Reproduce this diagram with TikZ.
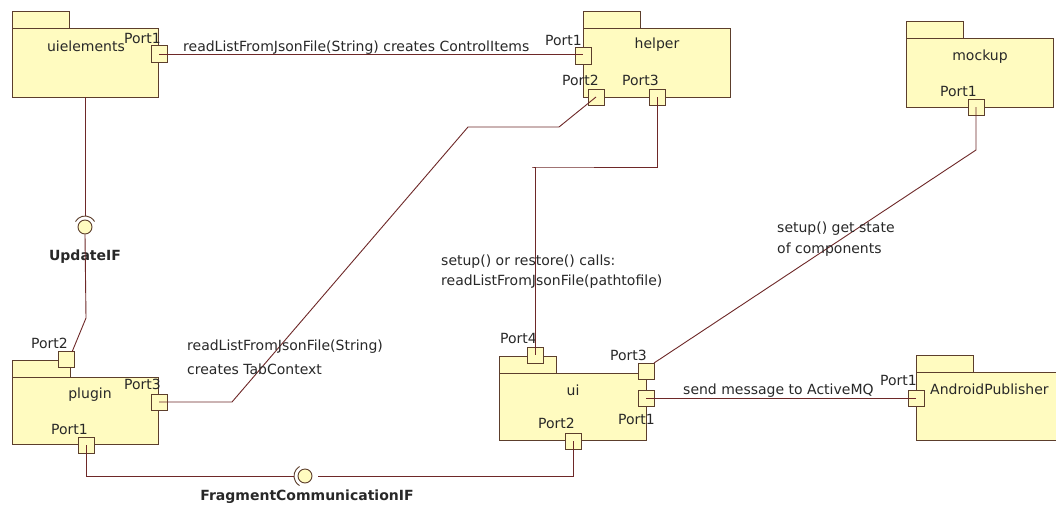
\documentclass[tikz,border=0pt]{standalone}
\usepackage{fontspec}
\setmainfont{DejaVu Sans}
\definecolor{pkgfill}{RGB}{255,251,192}
\definecolor{pkgline}{RGB}{92,62,44}
\definecolor{wirecol}{RGB}{110,40,40}
\definecolor{txtcol}{RGB}{40,40,40}
\tikzset{
  pkgbody/.style={draw=pkgline, fill=pkgfill, line width=1pt, inner sep=0, outer sep=0, anchor=north west},
  port/.style={draw=pkgline, fill=pkgfill, line width=1pt, minimum size=16pt, inner sep=0, outer sep=0},
  ball/.style={circle, draw=pkgline, fill=pkgfill, line width=0.9pt, minimum size=14pt, inner sep=0},
  socket/.style={draw=pkgline, line width=0.9pt},
  wire/.style={draw=wirecol, line width=0.9pt},
  lbl/.style={text=txtcol, inner sep=0, font=\fontsize{14}{16}\selectfont},
  ifl/.style={text=txtcol, inner sep=0, font=\fontsize{14}{16}\selectfont\bfseries},
}
\begin{document}
\begin{tikzpicture}[x=1pt,y=-1pt]
\useasboundingbox[fill=white] (0,0) rectangle (1056,511);

% ---------- packages: tab first, then body ----------
\node[pkgbody, minimum width=57pt, minimum height=17pt] (uielementsTab) at (12,12) {};
\node[pkgbody, minimum width=146pt, minimum height=68pt] (uielements) at (12,29) {};
\node[pkgbody, minimum width=57pt, minimum height=17pt] (helperTab) at (583,12) {};
\node[pkgbody, minimum width=147pt, minimum height=68pt] (helper) at (583,29) {};
\node[pkgbody, minimum width=57pt, minimum height=17pt] (mockupTab) at (906,22) {};
\node[pkgbody, minimum width=147pt, minimum height=68pt] (mockup) at (906,39) {};
\node[pkgbody, minimum width=58pt, minimum height=17pt] (pluginTab) at (12,360) {};
\node[pkgbody, minimum width=146pt, minimum height=67pt] (plugin) at (12,377) {};
\node[pkgbody, minimum width=57pt, minimum height=17pt] (uiTab) at (499,356) {};
\node[pkgbody, minimum width=147pt, minimum height=67pt] (ui) at (499,373) {};
\node[pkgbody, minimum width=57pt, minimum height=17pt] (apTab) at (916,355) {};
\node[pkgbody, minimum width=150pt, minimum height=68pt] (ap) at (916,372) {};

% package names
\node[lbl] (uielementsName) at (86,46) {uielements};
\node[lbl] (helperName) at (657,45) {helper};
\node[lbl] (mockupName) at (980,57) {mockup};
\node[lbl] (pluginName) at (90,395) {plugin};
\node[lbl] (uiName) at (573,390) {ui};
\node[lbl, anchor=west] (apName) at (930,389) {AndroidPublisher};

% ---------- ports ----------
\node[port] (uieP1) at (159,54) {};
\node[port] (helperP1) at (583,56) {};
\node[port] (helperP2) at (596,97) {};
\node[port] (helperP3) at (657,97) {};
\node[port] (mockupP1) at (976,107) {};
\node[port] (pluginP2) at (66,359) {};
\node[port] (pluginP3) at (159,402) {};
\node[port] (pluginP1) at (86,445) {};
\node[port] (uiP4) at (535,355) {};
\node[port] (uiP3) at (646,371) {};
\node[port] (uiP1) at (646,398) {};
\node[port] (uiP2) at (573,441) {};
\node[port] (apP1) at (916,398) {};

% port labels
\node[lbl, anchor=east] (uieP1l) at (161,38) {Port1};
\node[lbl, anchor=east] (helperP1l) at (582,40) {Port1};
\node[lbl, anchor=west] (helperP2l) at (562,80) {Port2};
\node[lbl, anchor=west] (helperP3l) at (622,80) {Port3};
\node[lbl, anchor=west] (mockupP1l) at (940,91) {Port1};
\node[lbl, anchor=west] (pluginP2l) at (31,343) {Port2};
\node[lbl, anchor=west] (pluginP3l) at (124,384) {Port3};
\node[lbl, anchor=west] (pluginP1l) at (51,429) {Port1};
\node[lbl, anchor=west] (uiP4l) at (500,338) {Port4};
\node[lbl, anchor=west] (uiP3l) at (610,355) {Port3};
\node[lbl, anchor=west] (uiP1l) at (618,419) {Port1};
\node[lbl, anchor=west] (uiP2l) at (538,423) {Port2};
\node[lbl, anchor=east] (apP1l) at (917,380) {Port1};

% ---------- interfaces ----------
\node[ball] (updBall) at (85,227) {};
\draw[socket] ([shift={(updBall.center)}]150:11pt) arc[start angle=150, end angle=30, radius=11pt];
\node[ifl] (updName) at (85,257) {UpdateIF};

\node[ball] (fragBall) at (305,476) {};
\draw[socket] ([shift={(fragBall.center)}]120:11pt) arc[start angle=120, end angle=240, radius=11pt];
\node[ifl] (fragName) at (307,497) {FragmentCommunicationIF};

% ---------- connectors ----------
\coordinate (updTop) at (85,216);
\coordinate (updLow) at (86,318);
\coordinate (p2in) at (72,352);
\draw[wire] (uielements.south) -- (updTop);
\draw[wire] (updBall.south) -- (updLow) -- (p2in);

\draw[wire] (uieP1.center) -- (helperP1.center |- uieP1.center);

\coordinate (tabA) at (232,402);
\coordinate (tabB) at (468,127);
\coordinate (tabC) at (559,127);
\draw[wire] (pluginP3.center) -- (tabA) -- (tabB) -- (tabC) -- (helperP2.center);

\coordinate (fragL) at (294,476);
\coordinate (fragR) at (318,476);
\draw[wire] (pluginP1.center) |- (fragL);
\draw[wire] (fragR) -| (uiP2.center);

\coordinate (hpA) at (657,167);
\coordinate (hpB) at (532,167);
\draw[wire] (helperP3.center) -- (hpA) -- (hpB) -- (uiP4.center |- hpB) -- (uiP4.center);

\coordinate (mkA) at (976,150);
\draw[wire] (mockupP1.center) -- (mkA) -- (uiP3.north east);

\draw[wire] (uiP1.center) -- (apP1.center);

% ---------- connector labels ----------
\node[lbl, anchor=west] (l1) at (183,48) {readListFromJsonFile(String) creates ControlItems};
\node[lbl, anchor=west] (l2a) at (187,347) {readListFromJsonFile(String)};
\node[lbl, anchor=west] (l2b) at (187,369) {creates TabContext};
\node[lbl, anchor=west] (l3a) at (441,262) {setup() or restore() calls:};
\node[lbl, anchor=west] (l3b) at (441,282) {readListFromJsonFile(pathtofile)};
\node[lbl, anchor=west] (l4a) at (777,229) {setup() get state};
\node[lbl, anchor=west] (l4b) at (777,250) {of components};
\node[lbl, anchor=west] (l5) at (683,391) {send message to ActiveMQ};
\end{tikzpicture}
\end{document}
